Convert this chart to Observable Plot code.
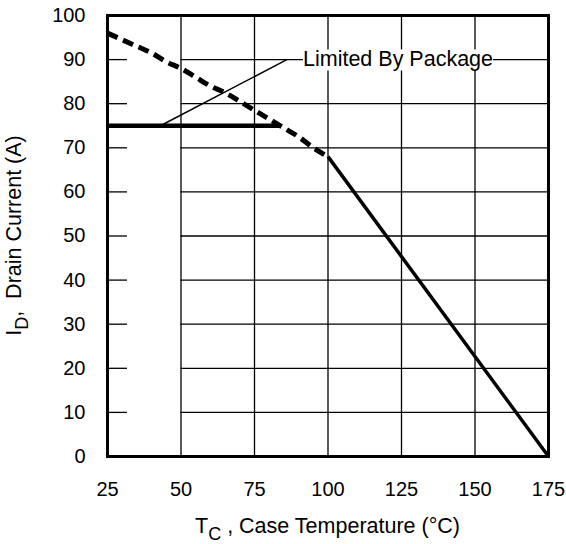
<!DOCTYPE html>
<html>
<head>
<meta charset="utf-8">
<script src="https://cdn.jsdelivr.net/npm/d3@7"></script>
<script src="https://cdn.jsdelivr.net/npm/@observablehq/plot@0.6"></script>
<style>
  html, body { margin: 0; padding: 0; background: #fff; }
  #chart { width: 566px; height: 544px; }
</style>
</head>
<body>
<div id="chart"></div>
<script>
// ---- data ----
const xTicks = [25, 50, 75, 100, 125, 150, 175];
const yTicks = [0, 10, 20, 30, 40, 50, 60, 70, 80, 90, 100];

// silicon-limited (theoretical) current, dashed
const siliconT = [25, 30, 35, 40, 45, 50, 55, 60, 65, 70, 75, 80, 85, 90, 95, 100];
const siliconI = [96, 94.5, 93, 91.5, 89.5, 88, 86, 84, 82.5, 80.5, 78.5, 76.5, 74.5, 72.5, 70, 68];

// rated drain current above 100 °C, solid
const ratedT = [100, 175];
const ratedI = [68, 0];

// package limit, thick horizontal
const packageT = [25, 84];
const packageI = [75, 75];

// annotation leader
const leaderT = [43, 86];
const leaderI = [75, 90];
const labelT = [91.5];
const labelI = [90];
const labelText = ["Limited By Package"];

const xLabelMain = "T", xLabelSub = "C", xLabelRest = " , Case Temperature (°C)";
const yLabelMain = "I", yLabelSub = "D", yLabelRest = ",  Drain Current (A)";

const rows = (a, b) => a.map((t, i) => ({t, v: b[i]}));

const font = "'Liberation Sans', Arial, Helvetica, sans-serif";

const plot = Plot.plot({
  width: 566,
  height: 544,
  marginLeft: 107,
  marginRight: 18,
  marginTop: 15,
  marginBottom: 88,
  x: {domain: [xTicks[0], xTicks[xTicks.length - 1]], ticks: xTicks},
  y: {domain: [yTicks[0], yTicks[yTicks.length - 1]], ticks: yTicks},
  style: {fontFamily: font, fontSize: "20px", color: "#000", background: "#fff"},
  marks: [
    Plot.ruleX(xTicks, {stroke: "#000", strokeWidth: 1.3}),
    Plot.ruleY(yTicks, {x1: xTicks[1], x2: xTicks[xTicks.length - 1], stroke: "#000", strokeWidth: 1.3}),
    Plot.ruleY(yTicks, {insetRight: 421, stroke: "#000", strokeWidth: 1.3}),
    Plot.line(rows(leaderT, leaderI), {x: "t", y: "v", stroke: "#000", strokeWidth: 1.5}),
    Plot.line(rows(packageT, packageI), {x: "t", y: "v", stroke: "#000", strokeWidth: 4.5, strokeLinecap: "butt"}),
    Plot.line(rows(siliconT, siliconI), {x: "t", y: "v", stroke: "#000", strokeWidth: 5, strokeDasharray: "11,6", strokeLinecap: "butt", curve: "monotone-x"}),
    Plot.line(rows(ratedT, ratedI), {x: "t", y: "v", stroke: "#000", strokeWidth: 3.5, strokeLinecap: "butt"}),
    Plot.text(labelText, {x: labelT, y: labelI, text: d => d, textAnchor: "start", fontSize: 21.5, fill: "#000"}),
    Plot.frame({stroke: "#000", strokeWidth: 3}),
    Plot.axisX(xTicks, {tickSize: 0, tickPadding: 25, label: null, fontSize: 20}),
    Plot.axisY(yTicks, {tickSize: 0, tickPadding: 22, label: null, fontSize: 20})
  ]
});

document.getElementById("chart").appendChild(plot);

// white box behind the annotation text (masks the grid like the original)
const svg = d3.select(plot);
svg.selectAll("text").filter(function () { return this.textContent === labelText[0]; }).each(function () {
  const bb = this.getBBox();
  const r = d3.select(this.parentNode).insert("rect", () => this)
    .attr("x", bb.x + (+this.getAttribute("x") || 0))
    .attr("y", bb.y + 2 + (+this.getAttribute("y") || 0) - (+this.getAttribute("y") || 0))
    .attr("width", bb.width).attr("height", bb.height - 3)
    .attr("fill", "#fff").attr("stroke", "none");
  // bbox is in the text's user space; reuse its transform
  r.attr("x", bb.x).attr("y", bb.y + 2);
  const tf = this.getAttribute("transform");
  if (tf) r.attr("transform", tf);
});

// axis titles with subscripts
const xs = plot.scale("x"), ys = plot.scale("y");
const cx = (xs.range[0] + xs.range[1]) / 2;
const cy = (ys.range[0] + ys.range[1]) / 2;

const xl = svg.append("text")
  .attr("x", cx).attr("y", 533)
  .attr("text-anchor", "middle")
  .attr("font-family", font).attr("font-size", 21.5).attr("fill", "#000")
  .style("white-space", "pre");
xl.append("tspan").text(xLabelMain);
xl.append("tspan").attr("dy", 7).attr("font-size", 18).text(xLabelSub);
xl.append("tspan").attr("dy", -7).text(xLabelRest);

const yl = svg.append("text")
  .attr("transform", `translate(21,${cy}) rotate(-90)`)
  .attr("text-anchor", "middle")
  .attr("font-family", font).attr("font-size", 21.5).attr("fill", "#000")
  .style("white-space", "pre");
yl.append("tspan").text(yLabelMain);
yl.append("tspan").attr("dy", 7).attr("font-size", 18).text(yLabelSub);
yl.append("tspan").attr("dy", -7).text(yLabelRest);
</script>
</body>
</html>
